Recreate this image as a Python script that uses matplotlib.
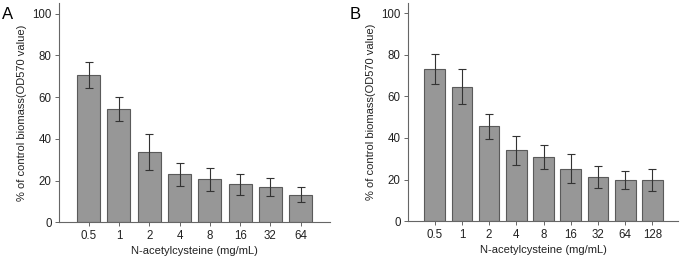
import numpy as np
import matplotlib
matplotlib.use("Agg")
import matplotlib.pyplot as plt

plt.rcParams['font.family'] = ['Liberation Sans', 'DejaVu Sans']

# panel A
labels_a = ['0.5', '1', '2', '4', '8', '16', '32', '64']
means_a = [70.4, 54.3, 33.7, 23.0, 20.6, 18.2, 16.8, 13.3]
err_a = [6.3, 5.8, 8.8, 5.6, 5.6, 4.9, 4.3, 3.8]

# panel B
labels_b = ['0.5', '1', '2', '4', '8', '16', '32', '64', '128']
means_b = [73.2, 64.7, 45.6, 34.2, 30.7, 25.3, 21.2, 19.7, 19.7]
err_b = [7.4, 8.4, 6.1, 7.0, 5.7, 6.8, 5.2, 4.4, 5.2]

bar_color = '#979797'
edge_color = '#5a5a5a'
err_color = '#333333'

fig = plt.figure(figsize=(6.8, 2.59), dpi=100)
ax_a = fig.add_axes([0.0872, 0.1417, 0.3978, 0.8463])
ax_b = fig.add_axes([0.6004, 0.1467, 0.3966, 0.8413])


def draw(ax, labels, means, errs, xlim):
    x = np.arange(len(labels))
    ax.bar(x, means, width=0.76, color=bar_color, edgecolor=edge_color,
           linewidth=0.8, zorder=2)
    ax.errorbar(x, means, yerr=errs, fmt='none', ecolor=err_color,
                elinewidth=0.8, capsize=3, capthick=0.8, zorder=3)
    ax.set_xticks(x)
    ax.set_xticklabels(labels)
    ax.set_xlim(*xlim)
    ax.set_ylim(0, 105)
    ax.set_yticks([0, 20, 40, 60, 80, 100])
    for s in ['top', 'right']:
        ax.spines[s].set_visible(False)
    for s in ['left', 'bottom']:
        ax.spines[s].set_color('#666666')
        ax.spines[s].set_linewidth(0.8)
    ax.tick_params(axis='both', labelsize=8.3, length=3, width=0.7,
                   color='#666666', labelcolor='#222222', pad=2.5)
    ax.set_xlabel('N-acetylcysteine (mg/mL)', fontsize=8, color='#222222',
                  labelpad=3)
    ax.set_ylabel('% of control biomass(OD570 value)', fontsize=8,
                  color='#222222', labelpad=4)


draw(ax_a, labels_a, means_a, err_a, (-0.97, 7.96))
draw(ax_b, labels_b, means_b, err_b, (-0.97, 8.94))

fig.text(0.003, 0.925, 'A', fontsize=12)
fig.text(0.514, 0.925, 'B', fontsize=12)

fig.savefig('out.png', dpi=100)
